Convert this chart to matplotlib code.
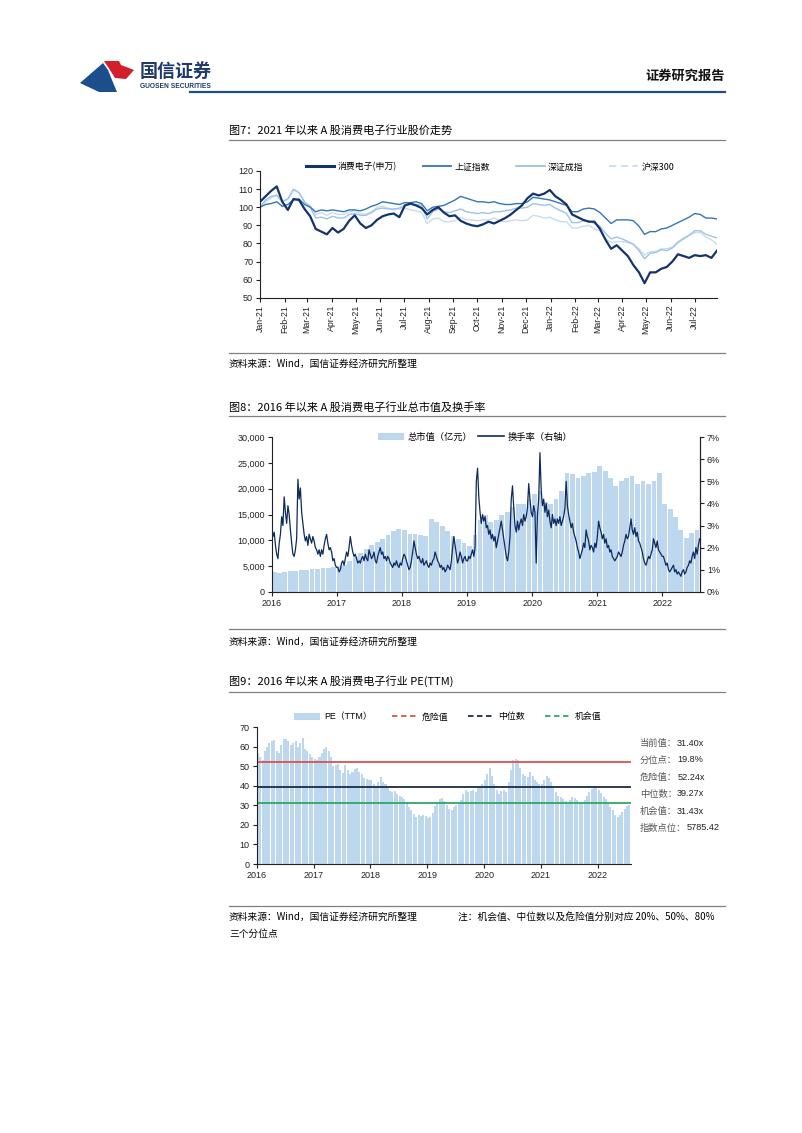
import numpy as np
import pandas as pd
import matplotlib
matplotlib.use("Agg")
import matplotlib.pyplot as plt
import matplotlib.dates as mdates
import matplotlib.ticker as ticker
from matplotlib.lines import Line2D
from matplotlib.patches import Patch, Polygon

CN = ["Noto Sans CJK SC", "DejaVu Sans"]
NUM = ["Liberation Sans", "Noto Sans CJK SC", "DejaVu Sans"]
plt.rcParams["font.family"] = NUM

W, H = 802, 1133

# ── Fig 7: weekly index (2021-01-01 = 100) ─────────────────────────────────────
WEEK_START = "2021-01-01"
ce_idx = [103, 106, 109, 111.5, 103, 98.5, 104.5, 104, 99, 95, 88, 86.5, 85, 88.5, 86, 88,
          92.5, 95.5, 91, 88.5, 90, 93, 95, 96, 96.5, 94.5, 101, 102, 101, 99.5, 96, 98.5,
          100, 97, 95, 95.5, 92.5, 91, 90, 89.5, 90.5, 92, 91, 92.5, 94, 96, 98.5, 101,
          105, 107.5, 106.5, 107.5, 109.5, 106, 104, 101.5, 96, 94.5, 93, 92, 92, 88,
          82, 77, 79, 76, 73, 68, 64, 58, 64, 64, 66, 67, 70, 74, 73, 72, 73.5, 73, 73.5, 72, 76]
sh_idx = [100, 101.5, 102, 103, 100.5, 101.5, 104, 104.5, 101.5, 100, 97.5, 98.5, 98, 98.5,
          98, 97.5, 98.5, 98.5, 98, 99, 100.5, 101.5, 103, 102.5, 102, 101.5, 102.5, 102.5,
          103, 102, 98, 100, 100.5, 101, 102.5, 104, 106, 105, 104, 103, 103, 102.5, 103,
          102, 101.5, 101.5, 102, 102, 103, 105.5, 105, 104.5, 104, 103, 102, 101, 97.5,
          97.5, 99, 99.5, 99, 97, 94, 91, 93, 93, 93, 92.5, 89.5, 85, 86.5, 86.5, 88, 88.5,
          90, 91.5, 93, 94.5, 96.5, 96, 94, 94, 93.5]
sz_idx = [100, 104, 106, 106.5, 103, 104.5, 110, 108, 103, 100, 94, 94.5, 93.5, 95, 94, 94,
          96, 96.5, 95.5, 95.5, 97, 99, 99.5, 99, 99, 99.5, 101, 101.5, 101.5, 101, 93.5,
          97.5, 99, 97.5, 97, 98, 99, 97.5, 97, 96.5, 97, 96.5, 97.5, 97.5, 98, 98.5, 99.5,
          99.5, 100, 102, 101.5, 101, 101.5, 99.5, 98, 96.5, 91.5, 91.5, 92.5, 92.5, 91,
          89.5, 85.5, 82.5, 83.5, 82.5, 81, 79.5, 76, 71.5, 74.5, 75, 76.5, 76, 77.5, 80.5,
          82.5, 84.5, 87, 87, 85, 84, 83]
hs_idx = [100, 103, 105, 107, 103.5, 104.5, 109.5, 108, 102.5, 101, 96, 97, 95.5, 97, 96, 96,
          97.5, 98, 96.5, 96, 97.5, 100, 100.5, 99.5, 98.5, 99, 99.5, 98.5, 98, 97, 91, 93.5,
          94, 92, 92, 92.5, 94.5, 93, 93, 92.5, 93, 93, 94, 92.5, 92, 92.5, 93, 92.5, 93,
          95.5, 95, 94, 94.5, 93, 92, 92, 88.5, 88.5, 89.5, 90, 88, 87, 82.5, 80.5, 81, 81,
          80.5, 79.5, 77, 73.5, 75.5, 75.5, 77, 77, 78, 81, 83, 84.5, 86, 86, 83.5, 82, 79.5]
idx_names = ["消费电子(申万)", "上证指数", "深证成指", "沪深300"]

# ── Fig 8: monthly market cap (亿元), weekly turnover (%) ──────────────────────
mcap = [3800, 3700, 3900, 4000, 4100, 4200, 4300, 4400, 4450, 4550, 4650, 4800,
        4900, 5200, 6000, 6800, 7500, 8200, 9000, 9600, 10200, 11000, 11800, 12200,
        12000, 11200, 11300, 11000, 10800, 14200, 13500, 12800, 11800, 10800, 10200, 9400,
        8800, 11000, 14000, 15000, 13500, 14000, 15000, 15500, 16500, 17000, 17000, 18000,
        19000, 19500, 17500, 17000, 18000, 19500, 23000, 22800, 22000, 22500, 23000, 23200,
        24500, 23500, 22000, 20500, 21500, 22000, 22500, 21000, 21500, 21000, 21500, 23000,
        17000, 16000, 14500, 12000, 10500, 11500, 12000]
turnover = [
    # 2016
    2.9, 2.5, 2.7, 2.1, 1.7, 1.5, 2.2, 2.6, 3.4, 3.0, 4.3, 3.6, 3.1, 3.9, 3.5, 2.8, 2.2, 1.7,
    1.6, 1.9, 2.4, 5.1, 4.2, 4.7, 3.6, 3.1, 2.6, 2.3, 2.5, 2.1, 2.6, 2.4, 2.2, 2.5, 2.3, 2.0,
    1.9, 1.7, 1.9, 1.6, 1.9, 1.7, 2.1, 2.4, 2.6, 2.2, 1.9, 2.0, 1.8, 1.4, 1.5, 1.2, 1.1,
    # 2017
    1.1, 0.9, 1.0, 1.3, 1.4, 1.2, 1.5, 1.8, 1.6, 2.0, 2.5, 2.1, 1.8, 1.6, 1.7, 1.5, 1.3, 1.4,
    1.3, 1.5, 1.6, 1.4, 1.7, 1.5, 1.4, 1.9, 1.7, 1.5, 1.6, 1.8, 1.4, 1.3, 1.6, 1.8, 2.0, 1.7,
    1.8, 1.5, 1.6, 1.4, 1.6, 1.5, 1.3, 1.2, 1.1, 1.3, 1.2, 1.4, 1.2, 1.1, 1.3, 1.2,
    # 2018
    1.5, 1.7, 1.6, 1.4, 1.2, 1.0, 1.1, 1.4, 1.8, 2.3, 2.0, 1.7, 1.5, 1.6, 1.4, 1.3, 1.5, 1.2,
    1.3, 1.4, 1.2, 1.1, 1.3, 1.2, 1.4, 1.5, 1.8, 1.6, 1.4, 1.3, 1.1, 1.2, 1.0, 1.1, 0.9, 1.0,
    1.2, 1.1, 1.0, 1.4, 2.0, 2.5, 2.1, 1.7, 1.3, 1.5, 1.8, 1.6, 1.3, 1.5, 1.6, 1.4,
    # 2019
    1.4, 1.6, 1.5, 1.7, 1.9, 1.6, 2.0, 5.0, 5.6, 4.3, 3.6, 3.1, 3.5, 3.2, 3.4, 2.9, 3.0, 2.6,
    2.8, 2.4, 2.6, 2.3, 2.5, 2.0, 2.3, 2.6, 2.9, 3.2, 2.8, 2.4, 2.0, 1.6, 1.4, 1.8, 2.5, 4.2,
    4.8, 3.8, 3.0, 2.7, 3.2, 2.8, 3.1, 3.3, 3.0, 3.5, 3.2, 3.4, 3.8, 4.9, 4.2, 3.6,
    # 2020
    3.4, 3.9, 3.6, 1.3, 3.5, 4.2, 6.3, 4.6, 3.9, 4.2, 3.6, 4.0, 3.4, 3.7, 3.2, 2.9, 3.5, 3.1,
    3.3, 3.0, 3.3, 3.1, 3.4, 3.0, 3.2, 3.4, 3.8, 5.0, 3.9, 3.5, 3.2, 2.9, 3.1, 2.7, 2.5, 2.3,
    2.0, 1.8, 1.5, 1.7, 1.9, 2.2, 2.0, 2.8, 2.5, 2.3, 1.9, 2.1, 2.0, 1.8, 2.2, 2.0,
    # 2021
    2.5, 3.2, 2.9, 2.7, 2.4, 2.6, 2.2, 2.4, 2.0, 2.1, 1.8, 1.9, 1.6, 1.5, 1.4, 1.5, 1.6, 1.8,
    1.7, 1.6, 1.8, 2.1, 2.3, 2.6, 2.4, 2.5, 2.9, 3.3, 2.8, 2.6, 2.9, 2.5, 2.7, 2.3, 2.2, 2.0,
    1.8, 1.5, 1.3, 1.2, 1.4, 1.6, 1.5, 1.7, 1.9, 2.4, 2.2, 2.0, 2.3, 1.9, 1.8, 1.7, 1.6,
    # 2022
    1.6, 1.4, 1.2, 1.3, 1.0, 0.9, 1.0, 1.1, 1.2, 0.9, 1.0, 0.8, 0.9, 0.8, 0.7, 0.9, 1.0, 0.8,
    0.9, 1.1, 1.2, 1.4, 1.3, 1.6, 1.8, 1.5, 2.0, 1.7, 2.1, 2.4,
]

# ── Fig 9: semi-monthly PE(TTM) ────────────────────────────────────────────────
pe_ttm = [57, 55, 53, 58, 60, 62, 63, 63.5, 58, 57, 61, 64, 64, 63, 61, 62, 63, 60, 62, 64.5,
          59, 58, 56.5, 55,
          54, 53, 55, 57, 59, 60, 58, 55, 50, 50.5, 51, 48, 46.5, 50.5, 48, 46, 47, 48.5,
          49, 47, 46, 44, 43.5, 43,
          43, 41, 40, 42, 44.5, 42, 41, 39, 37.5, 37, 37.5, 36, 35, 34.5, 33.5, 32, 29, 27.5,
          25.5, 24, 25, 24.5, 25, 24.5,
          23.5, 24, 26, 29.5, 32, 33.5, 34, 32.5, 30, 28, 27.5, 29, 30, 31, 33, 36, 38, 37,
          37.5, 38, 37, 39, 40, 41,
          43, 46, 49, 45, 41, 38, 36, 37.5, 38, 37, 42, 48, 53, 54, 53, 49, 46, 45, 44.5, 47,
          45, 43, 42, 41,
          41, 43, 45, 44, 42, 39, 37, 35, 34.5, 33.5, 32.5, 31, 33, 34.5, 34, 33, 32, 31, 33,
          35, 37, 38.5, 39.5, 39,
          38, 36.5, 34.5, 33.5, 31, 29, 27.5, 25, 24, 25, 26.5, 28, 29.5, 30]
PE_DANGER, PE_MEDIAN, PE_CHANCE = 52.24, 39.27, 31.43
pe_stats = [("当前值：", "31.40x"), ("分位点：", "19.8%"), ("危险值：", "52.24x"),
            ("中位数：", "39.27x"), ("机会值：", "31.43x"), ("指数点位：", "5785.42")]

wk_dates = pd.date_range(WEEK_START, periods=len(ce_idx), freq="7D")
mo_dates = pd.date_range("2016-01-01", periods=len(mcap), freq="MS")
to_dates = pd.date_range("2016-01-01", periods=len(turnover), freq="7D")
pe_dates = pd.date_range("2016-01-01", periods=len(pe_ttm), freq="SMS")

NAVY = "#14336B"
MID = "#3675B5"
LIGHT = "#9DC3E6"
PALE = "#C8DCF0"
BAR = "#BDD7EE"

fig = plt.figure(figsize=(W / 100, H / 100), dpi=100)


def fx(x):
    return x / W


def fy(y):
    return 1 - y / H


def add_ax(x0, ytop, x1, ybot):
    return fig.add_axes([fx(x0), fy(ybot), (x1 - x0) / W, (ybot - ytop) / H])


def rule(y, x0=229, x1=725, color="#808080", lw=0.9):
    fig.add_artist(Line2D([fx(x0), fx(x1)], [fy(y), fy(y)],
                          transform=fig.transFigure, color=color, lw=lw))


def style_axes(ax, right=False):
    ax.spines["top"].set_visible(False)
    ax.spines["right"].set_visible(right)
    for s in ax.spines.values():
        s.set_linewidth(0.8)
        s.set_color("#222222")
    ax.tick_params(direction="out", length=3, width=0.8, labelsize=6.5, pad=2,
                   colors="#222222")
    ax.set_facecolor("none")


# ── Header ─────────────────────────────────────────────────────────────────────
blue_logo = [(80, 83), (103, 63), (108, 70), (112, 80), (117, 92), (99, 92)]
red_logo = [(104, 61), (119, 61), (121, 65), (134, 70), (126, 79), (115, 78), (110, 70)]
fig.add_artist(Polygon([(fx(a), fy(b)) for a, b in blue_logo], closed=True,
                       transform=fig.transFigure, color="#1D4E8C", lw=0))
fig.add_artist(Polygon([(fx(a), fy(b)) for a, b in red_logo], closed=True,
                       transform=fig.transFigure, color="#D21F2B", lw=0))
fig.text(fx(140), fy(71), "国信证券", family=CN, fontsize=13, fontweight="bold",
         color="#1F3A6A", va="center", ha="left")
fig.text(fx(140), fy(87), "GUOSEN SECURITIES", family=NUM, fontsize=4.8,
         fontweight="bold", color="#1F3A6A", va="center", ha="left")
fig.text(fx(725), fy(76), "证券研究报告", family=CN, fontsize=9.5, fontweight="bold",
         color="#111111", va="center", ha="right")
rule(91.5, 190, 725, color="#1F4E8C", lw=1.6)

# ── Fig 7 ──────────────────────────────────────────────────────────────────────
fig.text(fx(229), fy(130), "图7：2021 年以来 A 股消费电子行业股价走势", family=CN,
         fontsize=8, va="center", ha="left")
rule(139.5)

ax1 = add_ax(260, 171, 717, 297.7)
ax1.plot(wk_dates, hs_idx, color=PALE, lw=1.0)
ax1.plot(wk_dates, sz_idx, color=LIGHT, lw=1.0)
ax1.plot(wk_dates, sh_idx, color=MID, lw=1.0)
ax1.plot(wk_dates, ce_idx, color=NAVY, lw=1.6)
ax1.set_xlim(pd.Timestamp(WEEK_START), wk_dates[-1])
ax1.set_ylim(50, 120)
ax1.set_yticks(range(50, 121, 10))
ax1.xaxis.set_major_locator(mdates.MonthLocator())
ax1.xaxis.set_major_formatter(mdates.DateFormatter("%b-%y"))
style_axes(ax1)
ax1.tick_params(axis="x", labelrotation=90, labelsize=6.3)

h1 = [Line2D([0], [0], color=NAVY, lw=2.2),
      Line2D([0], [0], color=MID, lw=1.3),
      Line2D([0], [0], color=LIGHT, lw=1.3),
      Line2D([0], [0], color=PALE, lw=1.3, ls=(0, (4, 2.5)))]
fig.legend(h1, idx_names, loc="center", bbox_to_anchor=(fx(490), fy(167)), ncol=4,
           frameon=False, prop={"family": CN, "size": 6.4}, handlelength=3.2,
           handletextpad=0.4, columnspacing=2.9, borderpad=0)

rule(352.5)
fig.text(fx(229), fy(363.5), "资料来源：Wind，国信证券经济研究所整理", family=CN,
         fontsize=7, va="center", ha="left")

# ── Fig 8 ──────────────────────────────────────────────────────────────────────
fig.text(fx(229), fy(407), "图8：2016 年以来 A 股消费电子行业总市值及换手率", family=CN,
         fontsize=8, va="center", ha="left")
rule(416)

ax2 = add_ax(271.7, 437.3, 700, 591.7)
ax2.bar(mo_dates, mcap, width=27, align="edge", color=BAR, lw=0)
ax2.set_ylim(0, 30000)
ax2.set_yticks(range(0, 30001, 5000))
ax2.yaxis.set_major_formatter(ticker.FuncFormatter(lambda v, p: f"{v:,.0f}"))
ax2.set_xlim(pd.Timestamp("2016-01-01"), pd.Timestamp("2022-07-31"))
ax2.xaxis.set_major_locator(mdates.YearLocator())
ax2.xaxis.set_major_formatter(mdates.DateFormatter("%Y"))
style_axes(ax2, right=True)
ax2b = ax2.twinx()
ax2b.plot(to_dates, turnover, color="#0E2A5C", lw=0.9)
ax2b.set_ylim(0, 7)
ax2b.yaxis.set_major_formatter(ticker.FuncFormatter(lambda v, p: f"{v:.0f}%"))
style_axes(ax2b, right=True)
ax2b.spines["left"].set_visible(False)
ax2b.spines["bottom"].set_visible(False)

h2 = [Patch(facecolor=BAR, edgecolor="none"), Line2D([0], [0], color="#0E2A5C", lw=1.2)]
fig.legend(h2, ["总市值（亿元）", "换手率（右轴）"], loc="center",
           bbox_to_anchor=(fx(475), fy(437)), ncol=2, frameon=False,
           prop={"family": CN, "size": 6.7}, handlelength=2.8, handleheight=0.9,
           handletextpad=0.4, columnspacing=0.6, borderpad=0)

rule(629)
fig.text(fx(229), fy(641.5), "资料来源：Wind，国信证券经济研究所整理", family=CN,
         fontsize=7, va="center", ha="left")

# ── Fig 9 ──────────────────────────────────────────────────────────────────────
fig.text(fx(229), fy(681), "图9：2016 年以来 A 股消费电子行业 PE(TTM)", family=CN,
         fontsize=8, va="center", ha="left")
rule(692)

ax3 = add_ax(256.7, 727.3, 630.7, 864)
ax3.bar(pe_dates, pe_ttm, width=13, align="edge", color=BAR, lw=0)
ax3.axhline(PE_DANGER, color="#D9534F", lw=1.3)
ax3.axhline(PE_MEDIAN, color="#1B2A4A", lw=1.3)
ax3.axhline(PE_CHANCE, color="#2EAA62", lw=1.3)
ax3.set_ylim(0, 70)
ax3.set_yticks(range(0, 71, 10))
ax3.set_xlim(pd.Timestamp("2016-01-01"), pd.Timestamp("2022-07-31"))
ax3.xaxis.set_major_locator(mdates.YearLocator())
ax3.xaxis.set_major_formatter(mdates.DateFormatter("%Y"))
style_axes(ax3)

h3 = [Patch(facecolor=BAR, edgecolor="none"),
      Line2D([0], [0], color="#D9534F", lw=1.3, ls=(0, (3, 2))),
      Line2D([0], [0], color="#1B2A4A", lw=1.3, ls=(0, (3, 2))),
      Line2D([0], [0], color="#2EAA62", lw=1.3, ls=(0, (3, 2)))]
fig.legend(h3, ["PE（TTM）", "危险值", "中位数", "机会值"], loc="center",
           bbox_to_anchor=(fx(448), fy(717)), ncol=4, frameon=False,
           prop={"family": NUM, "size": 6.4}, handlelength=2.9, handleheight=0.9,
           handletextpad=0.5, columnspacing=2.2, borderpad=0)

for i, (k, v) in enumerate(pe_stats):
    fig.text(fx(640), fy(743 + 17 * i), k, family=CN, fontsize=6.7,
             color="#555555", va="center", ha="left")
    fig.text(fx(640 + 9.3 * len(k)), fy(743 + 17 * i), v, family=NUM,
             fontsize=6.6, color="#222222", va="center", ha="left")

rule(905.5)
fig.text(fx(229), fy(917), "资料来源：Wind，国信证券经济研究所整理", family=CN,
         fontsize=7, va="center", ha="left")
fig.text(fx(458), fy(917), "注：机会值、中位数以及危险值分别对应 20%、50%、80%", family=CN,
         fontsize=7, va="center", ha="left")
fig.text(fx(229), fy(933.5), "三个分位点", family=CN, fontsize=7, va="center", ha="left")

fig.savefig("out.png", dpi=100)
